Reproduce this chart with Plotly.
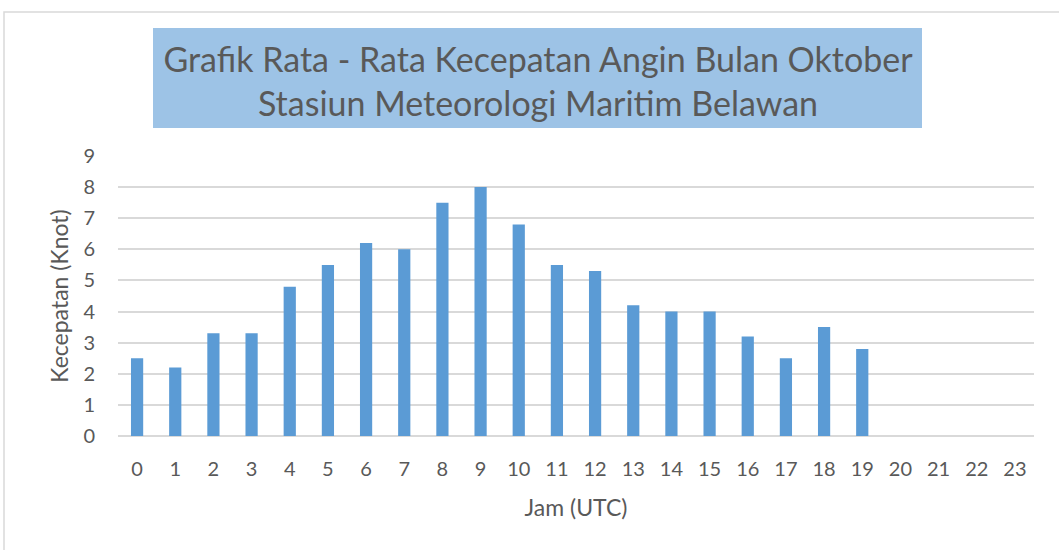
import plotly.graph_objects as go

# Hourly average wind speed (knots), October, Belawan maritime met station
hours = [str(h) for h in range(24)]
speed_knot = [2.5, 2.2, 3.3, 3.3, 4.8, 5.5, 6.2, 6.0, 7.5, 8.0,
              6.8, 5.5, 5.3, 4.2, 4.0, 4.0, 3.2, 2.5, 3.5, 2.8,
              None, None, None, None]
y_ticks = list(range(0, 10))

title_lines = ["Grafik Rata - Rata Kecepatan Angin Bulan Oktober",
               "Stasiun Meteorologi Maritim Belawan"]
x_title = "Jam (UTC)"
y_title = "Kecepatan (Knot)"

FONT = "Lato"
TEXT = "#595959"
GRID = "#D9D9D9"
BAR = "#5B9BD5"

W, H = 1059, 550
L, R, T, B = 118, 25, 156, 114
pw, ph = W - L - R, H - T - B


def px_x(x):
    return (x - L) / pw


def px_y(y):
    return (H - B - y) / ph


fig = go.Figure(go.Bar(x=hours, y=speed_knot, marker=dict(color=BAR, line=dict(width=0))))

fig.update_layout(
    width=W, height=H,
    margin=dict(l=L, r=R, t=T, b=B),
    paper_bgcolor="white", plot_bgcolor="white",
    bargap=0.68,
    showlegend=False,
    font=dict(family=FONT, color=TEXT),
    title=dict(
        text="<br>".join(title_lines),
        x=px_x(538), xref="paper", xanchor="center",
        y=1 - 72 / H, yref="container", yanchor="middle",
        font=dict(family=FONT, size=34, color=TEXT),
    ),
    shapes=[
        # outer chart frame
        dict(type="rect", xref="paper", yref="paper", layer="below",
             x0=px_x(4), x1=px_x(1080), y0=px_y(600), y1=px_y(12),
             line=dict(color=GRID, width=1.5), fillcolor="rgba(0,0,0,0)"),
        # title background box
        dict(type="rect", xref="paper", yref="paper", layer="below",
             x0=px_x(153), x1=px_x(922), y0=px_y(128), y1=px_y(28),
             line=dict(width=0), fillcolor="#9DC3E6"),
    ],
)

fig.update_xaxes(
    type="category", categoryorder="array", categoryarray=hours,
    tickvals=hours, ticktext=hours,
    showgrid=False, showline=False, zeroline=False,
    ticks="outside", ticklen=15, tickcolor="rgba(0,0,0,0)",
    tickfont=dict(family=FONT, size=20, color=TEXT),
    title=dict(text=x_title, font=dict(family=FONT, size=23, color=TEXT), standoff=20),
)
fig.update_yaxes(
    range=[0, 9], tickvals=y_ticks,
    showgrid=True, gridcolor=GRID, gridwidth=1.5,
    zeroline=True, zerolinecolor=GRID, zerolinewidth=1.5,
    showline=False,
    ticks="outside", ticklen=18, tickcolor="rgba(0,0,0,0)",
    tickfont=dict(family=FONT, size=20, color=TEXT),
    title=dict(text=y_title, font=dict(family=FONT, size=23, color=TEXT), standoff=8),
)

fig.write_html("out.html")
